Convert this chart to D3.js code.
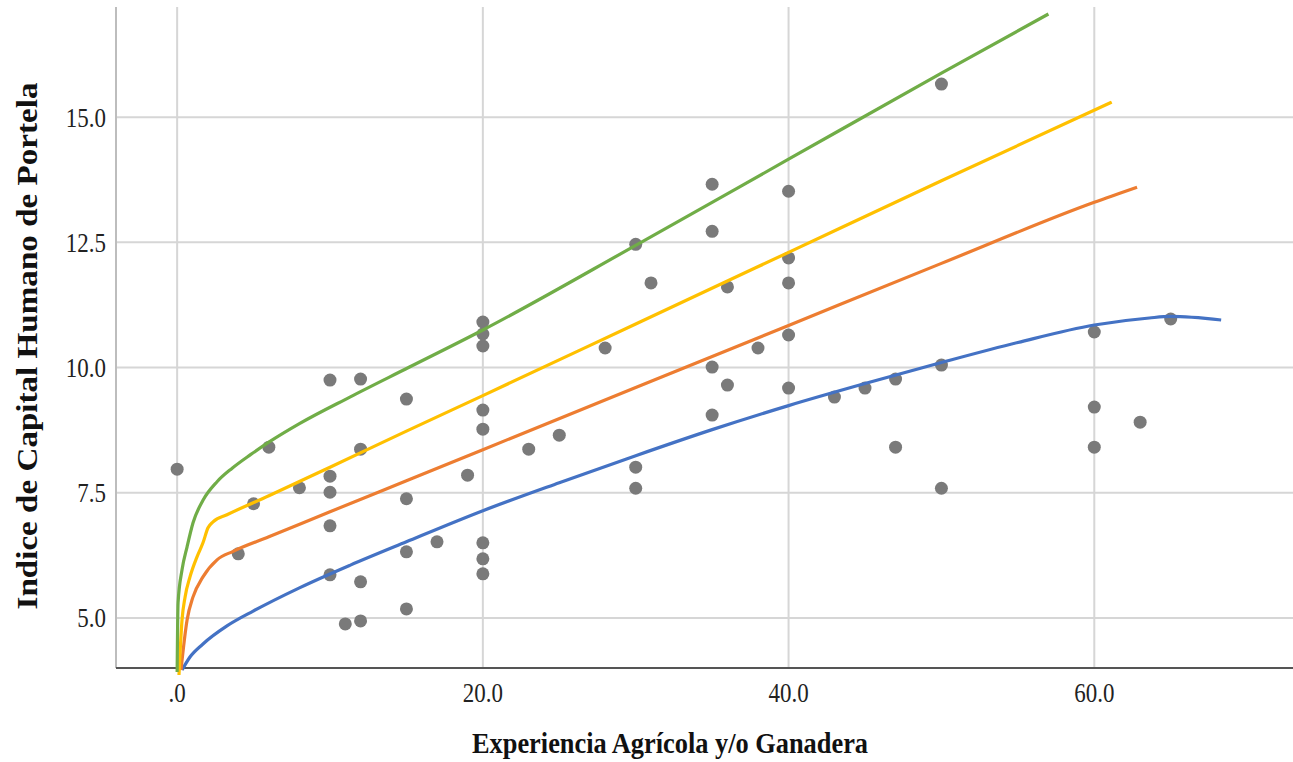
<!DOCTYPE html>
<html>
	<head>
		<meta charset="UTF-8">
		<title>Experiencia vs Indice de Capital Humano</title>
		<style type="text/css">
			body { margin: 0; background: #fff; }
			svg text { font-family: "Liberation Serif", "Times New Roman", serif; }
		</style>
	</head>
	<body>
		<svg class="chart"></svg>

		<script src="https://cdn.jsdelivr.net/npm/d3@7/dist/d3.min.js"></script>
		<script type="text/javascript">
			// puntos observados (experiencia, indice)
			var expPts = [0, 4, 5, 6, 8, 10, 10, 10, 10, 10, 11, 12, 12, 12, 12, 15, 15, 15, 15, 17, 19,
				20, 20, 20, 20, 20, 20, 20, 20, 23, 25, 28, 30, 30, 30, 31, 35, 35, 35, 35, 36, 36, 38,
				40, 40, 40, 40, 40, 43, 45, 47, 47, 50, 50, 50, 60, 60, 60, 63, 65];
			var idxPts = [7.97, 6.28, 7.28, 8.41, 7.6, 9.75, 7.83, 7.51, 6.84, 5.86, 4.88, 9.77, 8.37, 5.72, 4.94,
				9.37, 7.38, 6.32, 5.18, 6.52, 7.85, 10.91, 10.67, 10.43, 9.15, 8.77, 6.5, 6.18, 5.88, 8.37, 8.65,
				10.39, 12.46, 8.01, 7.59, 11.69, 13.66, 12.72, 10.01, 9.05, 11.61, 9.65, 10.39, 13.52, 12.19,
				11.69, 10.65, 9.59, 9.41, 9.59, 9.77, 8.41, 15.66, 10.05, 7.59, 10.71, 9.21, 8.41, 8.91, 10.97];

			// curvas ajustadas
			var greenX = [0, 0.06, 0.32, 0.65, 1.04, 1.69, 2.61, 3.6, 4.8, 6, 8, 11.3, 15.2, 20, 30, 40, 50, 57];
			var greenY = [3.92, 5.30, 5.96, 6.42, 6.90, 7.35, 7.72, 7.99, 8.26, 8.51, 8.88, 9.41, 10.01, 10.75, 12.44, 14.16, 15.88, 17.06];
			var yellowX = [0.12, 0.32, 0.52, 0.84, 1.30, 1.69, 2.02, 2.35, 3.26, 6, 10, 15, 20, 30, 40, 50, 61.14];
			var yellowY = [3.86, 4.96, 5.42, 5.82, 6.22, 6.50, 6.80, 6.92, 7.06, 7.44, 8.01, 8.73, 9.44, 10.87, 12.3, 13.73, 15.3];
			var orangeX = [0.25, 0.65, 1.04, 1.69, 2.61, 3.66, 6, 10, 15, 20, 30, 40, 50, 60, 62.8];
			var orangeY = [3.96, 4.96, 5.42, 5.82, 6.16, 6.33, 6.62, 7.12, 7.74, 8.36, 9.6, 10.84, 12.08, 13.3, 13.6];
			var blueX = [0.32, 0.84, 1.69, 3.26, 5, 8, 11.3, 15, 20, 25, 30, 35, 40, 45, 50, 55, 60, 63.6, 65, 68.3];
			var blueY = [3.96, 4.22, 4.48, 4.84, 5.14, 5.6, 6.05, 6.52, 7.14, 7.7, 8.24, 8.76, 9.24, 9.68, 10.1, 10.5, 10.85, 10.99, 11.02, 10.95];

			var xTicks = [0, 20, 40, 60];
			var xTickLabels = [".0", "20.0", "40.0", "60.0"];
			var yTicks = [5, 7.5, 10, 12.5, 15];
			var yTickLabels = ["5.0", "7.5", "10.0", "12.5", "15.0"];

			var width = 1293, height = 762;
			var svg = d3.select(".chart")
				.attr("width", width)
				.attr("height", height);

			var x = d3.scaleLinear().domain([-4, 73]).range([116, 1293]);
			var y = d3.scaleLinear().domain([4, 17.2]).range([668, 7]);

			// rejilla
			var g_grid = svg.append("g").classed("grid", true);
			g_grid.selectAll("line.h").data(yTicks).enter().append("line")
				.attr("x1", x(-4)).attr("x2", x(73))
				.attr("y1", function(d) { return y(d); })
				.attr("y2", function(d) { return y(d); })
				.attr("stroke", "#d6d6d6").attr("stroke-width", 2);
			g_grid.selectAll("line.v").data(xTicks).enter().append("line")
				.attr("y1", y(17.2)).attr("y2", y(4))
				.attr("x1", function(d) { return x(d); })
				.attr("x2", function(d) { return x(d); })
				.attr("stroke", "#d6d6d6").attr("stroke-width", 2);

			// ejes
			svg.append("line")
				.attr("x1", x(-4)).attr("x2", x(-4))
				.attr("y1", y(17.2)).attr("y2", y(4))
				.attr("stroke", "#bdbdbd").attr("stroke-width", 2);
			svg.append("line")
				.attr("x1", x(-4)).attr("x2", x(73))
				.attr("y1", y(4)).attr("y2", y(4))
				.attr("stroke", "#555").attr("stroke-width", 2);

			// etiquetas (fuente algo estrecha, como en el original)
			svg.append("g").selectAll("text").data(yTicks).enter().append("text")
				.attr("transform", function(d) { return "translate(106," + y(d) + ") scale(0.85,1)"; })
				.attr("dy", "0.35em")
				.attr("text-anchor", "end")
				.attr("font-size", 27)
				.attr("fill", "#222")
				.text(function(d, i) { return yTickLabels[i]; });

			svg.append("g").selectAll("text").data(xTicks).enter().append("text")
				.attr("transform", function(d) { return "translate(" + x(d) + ",702) scale(0.85,1)"; })
				.attr("text-anchor", "middle")
				.attr("font-size", 27)
				.attr("fill", "#222")
				.text(function(d, i) { return xTickLabels[i]; });

			// puntos
			svg.append("g").selectAll("circle").data(expPts).enter().append("circle")
				.attr("cx", function(d) { return x(d); })
				.attr("cy", function(d, i) { return y(idxPts[i]); })
				.attr("r", 6.5)
				.attr("fill", "#7a7a7a");

			// curvas
			var line = d3.line()
				.x(function(d) { return x(d[0]); })
				.y(function(d) { return y(d[1]); })
				.curve(d3.curveMonotoneX);

			var curves = [
				{ xs: blueX, ys: blueY, color: "#4472c4" },
				{ xs: orangeX, ys: orangeY, color: "#ed7d31" },
				{ xs: yellowX, ys: yellowY, color: "#ffc000" },
				{ xs: greenX, ys: greenY, color: "#70ad47" }
			];
			curves.forEach(function(c) {
				svg.append("path")
					.datum(d3.zip(c.xs, c.ys))
					.attr("d", line)
					.attr("fill", "none")
					.attr("stroke", c.color)
					.attr("stroke-width", 3.2);
			});

			// titulos
			svg.append("text")
				.attr("x", 670).attr("y", 753)
				.attr("text-anchor", "middle")
				.attr("font-size", 29)
				.attr("font-weight", "bold")
				.attr("fill", "#111")
				.attr("textLength", 396)
				.attr("lengthAdjust", "spacingAndGlyphs")
				.text("Experiencia Agrícola y/o Ganadera");

			svg.append("text")
				.attr("transform", "translate(37,346) rotate(-90)")
				.attr("text-anchor", "middle")
				.attr("font-size", 29)
				.attr("font-weight", "bold")
				.attr("fill", "#111")
				.attr("textLength", 527)
				.attr("lengthAdjust", "spacingAndGlyphs")
				.text("Indice de Capital Humano de Portela");
		</script>
	</body>
</html>
